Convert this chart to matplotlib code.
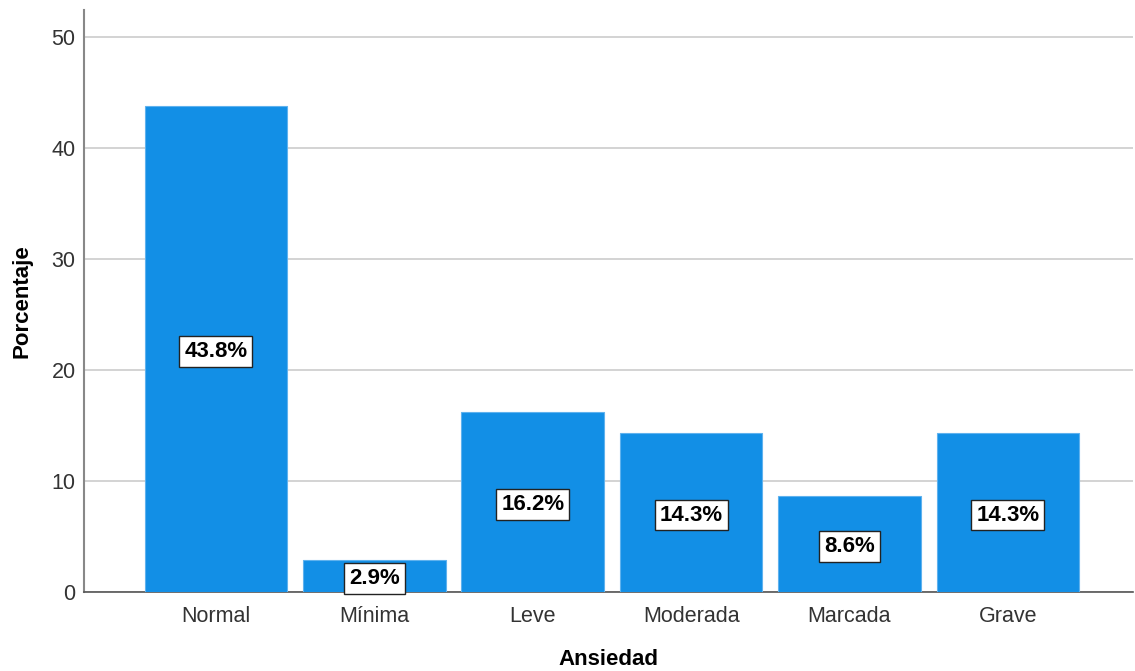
import numpy as np
import matplotlib
matplotlib.use("Agg")
import matplotlib.pyplot as plt

plt.rcParams['font.family'] = ['Liberation Sans', 'DejaVu Sans']

categorias = ['Normal', 'Mínima', 'Leve', 'Moderada', 'Marcada', 'Grave']
porcentajes = [43.8, 2.9, 16.2, 14.3, 8.6, 14.3]
etiquetas = ['43.8%', '2.9%', '16.2%', '14.3%', '8.6%', '14.3%']

fig = plt.figure(figsize=(11.35, 6.71), dpi=100)
ax = fig.add_axes([84/1135, 1 - 592/671, 1049/1135, 582/671])

x = np.arange(len(categorias))
ax.bar(x, porcentajes, width=0.9, color='#128fe6', edgecolor='#5fb2ee',
       linewidth=0.8, zorder=3)

for xi, v, lab in zip(x, porcentajes, etiquetas):
    ax.text(xi, v / 2, lab, ha='center', va='center_baseline', fontsize=16,
            fontweight='bold', color='black', zorder=5,
            bbox=dict(boxstyle='square,pad=0.22', facecolor='white',
                      edgecolor='#222222', linewidth=1))

ax.set_xlim(-0.833, 5.79)
ax.set_ylim(0, 52.4)
ax.set_yticks([0, 10, 20, 30, 40, 50])
ax.set_xticks(x)
ax.set_xticklabels(categorias)
ax.yaxis.grid(True, color='#cccccc', linewidth=1.2, zorder=0)
ax.set_axisbelow(True)

for s in ['top', 'right']:
    ax.spines[s].set_visible(False)
ax.spines['left'].set_color('#888888')
ax.spines['left'].set_linewidth(1.5)
ax.spines['bottom'].set_color('#555555')
ax.spines['bottom'].set_linewidth(1.2)

ax.tick_params(axis='both', length=0, labelsize=15.5, colors='#333333')
ax.tick_params(axis='x', pad=10)
ax.tick_params(axis='y', pad=6)

ax.set_xlabel('Ansiedad', fontsize=16, fontweight='bold', labelpad=16)
ax.set_ylabel('Porcentaje', fontsize=16, fontweight='bold', labelpad=14)

fig.savefig('out.png', dpi=100)
